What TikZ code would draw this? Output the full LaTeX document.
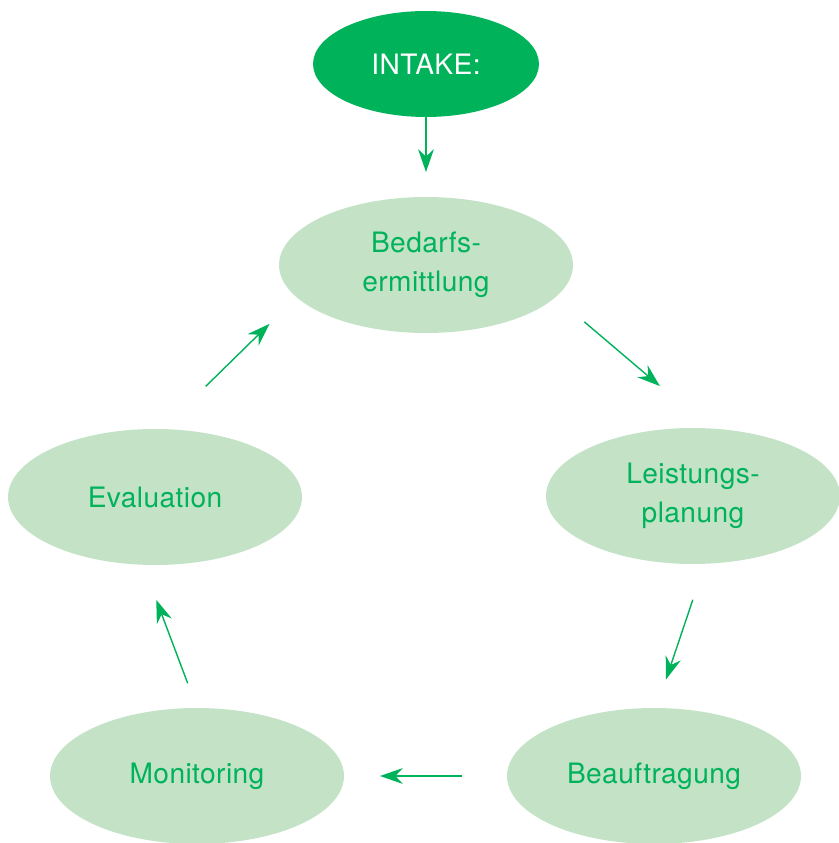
\documentclass[tikz,border=0pt]{standalone}
\usepackage{fontspec}
\setmainfont[LetterSpace=1.5]{TeX Gyre Heros}
\usetikzlibrary{arrows.meta,shapes.geometric}
\definecolor{darkgreen}{HTML}{00B25A}
\definecolor{palegreen}{HTML}{C3E2C6}
\tikzset{
    phase/.style={ellipse,fill=palegreen,text=darkgreen,align=center,inner sep=0pt,outer sep=0pt,
        minimum width=5.88cm,minimum height=2.72cm,font=\fontsize{16}{22.5}\selectfont},
    start/.style={ellipse,fill=darkgreen,text=white,inner sep=0pt,outer sep=0pt,
        minimum width=4.52cm,minimum height=2.12cm,font=\fontsize{16}{22.5}\selectfont},
    flow/.style={draw=darkgreen,line width=0.8pt,-{Stealth[length=13pt,width=9pt]}}
}

\begin{document}
\begin{tikzpicture}[x=0.02cm,y=0.02cm]
    \useasboundingbox (0,0) rectangle (839,843);
    \node[start] (intake) at (426,779) {INTAKE:};
    \node[phase] (bedarf) at (426,578) {Bedarfs-\\ermittlung};
    \node[phase] (leistung) at (693,347) {Leistungs-\\planung};
    \node[phase] (auftrag) at (654,67) {Beauftragung};
    \node[phase] (monitor) at (197,67) {Monitoring};
    \node[phase] (evaluation) at (155,346) {Evaluation};

    \draw[flow,shorten >=0.5cm] (intake.south) -- (bedarf.north);
    \draw[flow,shorten <=0.76cm,shorten >=1.31cm] (bedarf.-14.1) -- (leistung.76.9);
    \draw[flow,shorten <=0.76cm,shorten >=0.6cm] (leistung.-80.6) -- (auftrag.88.8);
    \draw[flow,shorten <=0.9cm,shorten >=0.72cm] (auftrag.west) -- (monitor.east);
    \draw[flow,shorten <=0.53cm,shorten >=0.75cm] (monitor.90.5) -- (evaluation.-100.2);
    \draw[flow,shorten <=1.22cm,shorten >=0.76cm] (evaluation.84.2) -- (bedarf.-166.7);
\end{tikzpicture}
\end{document}
